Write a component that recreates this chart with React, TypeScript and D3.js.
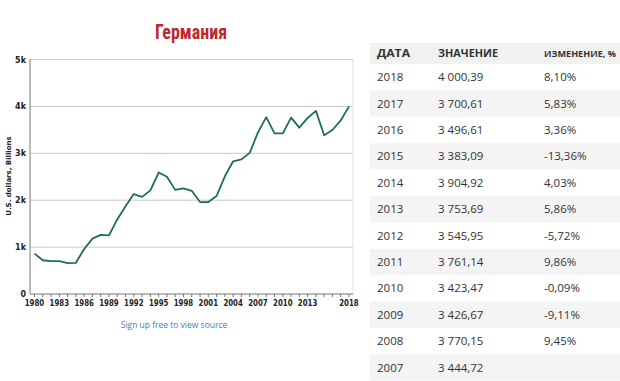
import React from "react";
import * as d3 from "d3";

const years: number[] = [
  1980, 1981, 1982, 1983, 1984, 1985, 1986, 1987, 1988, 1989,
  1990, 1991, 1992, 1993, 1994, 1995, 1996, 1997, 1998, 1999,
  2000, 2001, 2002, 2003, 2004, 2005, 2006, 2007, 2008, 2009,
  2010, 2011, 2012, 2013, 2014, 2015, 2016, 2017, 2018,
];
const gdp: number[] = [
  860, 720, 700, 700, 660, 665, 960, 1180, 1260, 1250,
  1590, 1870, 2130, 2070, 2210, 2590, 2500, 2220, 2250, 2200,
  1960, 1960, 2090, 2510, 2830, 2870, 3010, 3444.72, 3770.15, 3426.67,
  3423.47, 3761.14, 3545.95, 3753.69, 3904.92, 3383.09, 3496.61, 3700.61, 4000.39,
];
const xTickLabels: number[] = [1980, 1983, 1986, 1989, 1992, 1995, 1998, 2001, 2004, 2007, 2010, 2013, 2018];
const yTicks: number[] = [0, 1000, 2000, 3000, 4000, 5000];
const yTickLabels: string[] = ["0", "1k", "2k", "3k", "4k", "5k"];

const tableHeaders: string[] = ["ДАТА", "ЗНАЧЕНИЕ", "ИЗМЕНЕНИЕ, %"];
const tableDates: string[] = ["2018", "2017", "2016", "2015", "2014", "2013", "2012", "2011", "2010", "2009", "2008", "2007"];
const tableValues: string[] = ["4 000,39", "3 700,61", "3 496,61", "3 383,09", "3 904,92", "3 753,69", "3 545,95", "3 761,14", "3 423,47", "3 426,67", "3 770,15", "3 444,72"];
const tableChanges: string[] = ["8,10%", "5,83%", "3,36%", "-13,36%", "4,03%", "5,86%", "-5,72%", "9,86%", "-0,09%", "-9,11%", "9,45%", ""];

export default function App() {
  const W = 620, H = 381;
  const plotL = 30, plotR = 353, plotT = 59.5, plotB = 294;
  const x = d3.scaleLinear().domain([1980, 2018]).range([34.5, 349]);
  const y = d3.scaleLinear().domain([0, 5000]).range([plotB, plotT]);
  const line = d3.line<number>().x((_, i) => x(years[i])).y((d) => y(d)).curve(d3.curveLinear);
  const axisFont = "'DejaVu Sans', Verdana, sans-serif";
  const tableFont = "'Open Sans', 'Noto Sans', sans-serif";

  const rowTop = 64, rowH = 26.4;
  const colX = [377, 438, 544];
  const headerWidths = [33, 60, 72];
  const headerSizes = [10, 10, 9.6];

  return (
    <svg width={W} height={H} style={{ position: "absolute", left: 0, top: 0, background: "#fff" }}>
      <text x={191} y={39} textAnchor="middle" fontFamily="'Liberation Sans Narrow', 'Roboto Condensed', 'Arial Narrow', sans-serif" fontWeight="bold" fontSize={20} fill="#c1272d" textLength={72} lengthAdjust="spacingAndGlyphs">Германия</text>

      {yTicks.map((t, i) => (
        <g key={t}>
          {t > 0 && <line x1={plotL} x2={plotR} y1={y(t)} y2={y(t)} stroke="#c8c8c8" strokeWidth={1} />}
          <text x={26} y={y(t) + 3} textAnchor="end" fontFamily={axisFont} fontWeight="bold" fontSize={8} fill="#222">{yTickLabels[i]}</text>
        </g>
      ))}
      <line x1={plotR} x2={plotR} y1={plotT} y2={plotB} stroke="#e0e0e0" />
      <line x1={plotL} x2={plotL} y1={plotT} y2={plotB} stroke="#777" />
      <line x1={plotL} x2={plotR} y1={plotB} y2={plotB} stroke="#777" />
      {years.map((yr) => (
        <line key={yr} x1={x(yr)} x2={x(yr)} y1={plotB} y2={plotB + 3} stroke="#777" />
      ))}
      {xTickLabels.map((yr) => (
        <text key={yr} x={x(yr)} y={306} textAnchor="middle" fontFamily={axisFont} fontWeight="bold" fontSize={9} fill="#222" textLength={19.5} lengthAdjust="spacingAndGlyphs">{yr}</text>
      ))}
      <text transform={`translate(11,176) rotate(-90)`} textAnchor="middle" fontFamily={axisFont} fontWeight="bold" fontSize={7} fill="#222">U.S. dollars, Billions</text>

      <path d={line(gdp) || ""} fill="none" stroke="#1c6e55" strokeWidth={1.8} strokeLinejoin="round" />

      <text x={174} y={328} textAnchor="middle" fontFamily={tableFont} fontSize={8.5} fill="#3b7fc4">Sign up free to view source</text>

      <rect x={370} y={43} width={250} height={rowTop - 43} fill="#f1f1ef" />
      {tableHeaders.map((h, i) => (
        <text key={h} x={colX[i]} y={57} fontFamily={tableFont} fontWeight="bold" fontSize={headerSizes[i]} fill="#333" textLength={headerWidths[i]} lengthAdjust="spacingAndGlyphs">{h}</text>
      ))}
      {tableDates.map((d, i) => (
        <g key={d}>
          {i % 2 === 1 && <rect x={370} y={rowTop + i * rowH} width={250} height={rowH} fill="#f4f4f4" />}
          <text x={colX[0]} y={rowTop + i * rowH + rowH / 2 + 4} fontFamily={tableFont} fontSize={11.5} fill="#333">{d}</text>
          <text x={colX[1]} y={rowTop + i * rowH + rowH / 2 + 4} fontFamily={tableFont} fontSize={11.5} fill="#333">{tableValues[i]}</text>
          <text x={colX[2]} y={rowTop + i * rowH + rowH / 2 + 4} fontFamily={tableFont} fontSize={11.5} fill="#333">{tableChanges[i]}</text>
        </g>
      ))}
    </svg>
  );
}
